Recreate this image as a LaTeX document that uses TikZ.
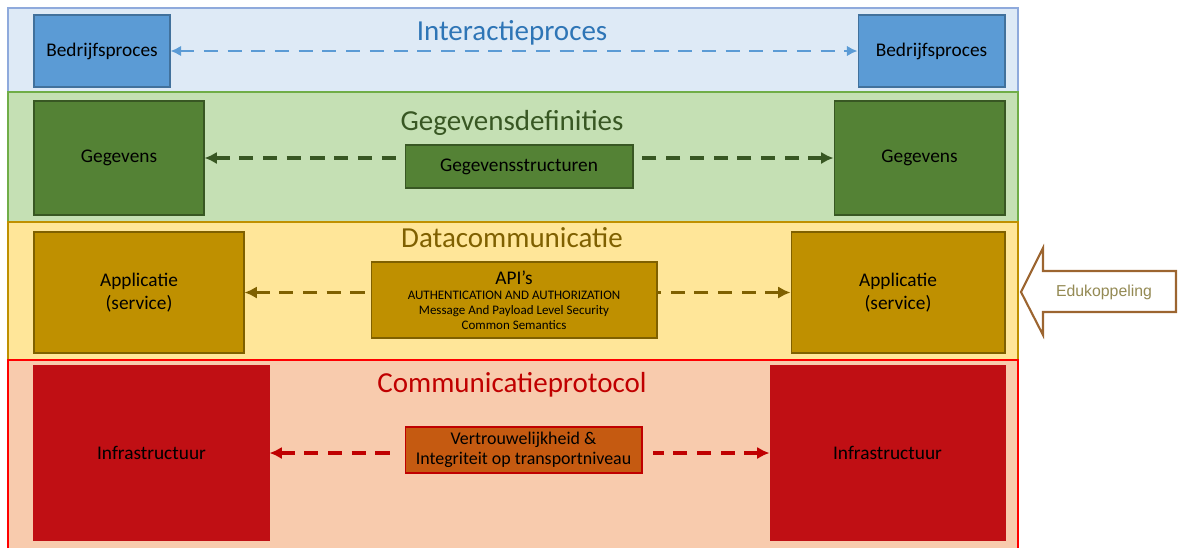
\documentclass[tikz,border=0pt]{standalone}
\usepackage{fontspec}
\setmainfont{Carlito}
\newfontfamily\arialfont{Liberation Sans}
\usetikzlibrary{arrows.meta}

\definecolor{lichtblauw}{HTML}{DEEAF6}
\definecolor{randblauw}{HTML}{8FAADC}
\definecolor{blokblauw}{HTML}{5B9BD5}
\definecolor{donkerblauw}{HTML}{41719C}
\definecolor{titelblauw}{HTML}{2E75B6}
\definecolor{lichtgroen}{HTML}{C5E0B4}
\definecolor{randgroen}{HTML}{70AD47}
\definecolor{blokgroen}{HTML}{548235}
\definecolor{donkergroen}{HTML}{385723}
\definecolor{lichtgeel}{HTML}{FFE699}
\definecolor{randgeel}{HTML}{BF9000}
\definecolor{blokgoud}{HTML}{BF9000}
\definecolor{donkergoud}{HTML}{7F6000}
\definecolor{lichtrood}{HTML}{F8CBAD}
\definecolor{randrood}{HTML}{FF0000}
\definecolor{blokrood}{HTML}{C00F14}
\definecolor{donkerrood}{HTML}{C00000}
\definecolor{blokoranje}{HTML}{C55A11}
\definecolor{pijlbruin}{HTML}{9C6530}
\definecolor{tekstolijf}{HTML}{948A54}

\tikzset{
  laag/.style={line width=0.8pt},
  blok/.style={rectangle, draw, line width=0.6pt, align=center, text=black, font=\fontsize{11}{13}\selectfont, inner sep=2pt},
  titel/.style={font=\fontsize{16.5}{19}\selectfont},
  koppeling/.style={dashed, dash pattern=on 8pt off 5.5pt, line width=2pt, {Latex[length=7pt,width=7pt]}-}
}

\begin{document}
\begin{tikzpicture}[x=0.02cm, y=-0.02cm]
  \useasboundingbox (0,0) rectangle (1179,548);

  % lagen
  \draw[laag, fill=lichtblauw, draw=randblauw] (8,8) rectangle (1018,92);
  \draw[laag, fill=lichtgroen, draw=randgroen] (8,92) rectangle (1018,222);
  \draw[laag, fill=lichtgeel, draw=randgeel] (8,222) rectangle (1018,360);
  \fill[lichtrood] (8,360) rectangle (1018,548);
  \draw[laag, randrood] (8,548) -- (8,360) -- (1018,360) -- (1018,548);

  \node[titel, text=titelblauw] (t1) at (512,33) {Interactieproces};
  \node[titel, text=donkergroen] (t2) at (512,123) {Gegevensdefinities};
  \node[titel, text=donkergoud] (t3) at (512,238) {Datacommunicatie};
  \node[titel, text=donkerrood] (t4) at (512,385) {Communicatieprotocol};

  % interactieproces
  \node[blok, fill=blokblauw, draw=donkerblauw, minimum width=2.72cm, minimum height=1.44cm] (bp1) at (102,51) {Bedrijfsproces};
  \node[blok, fill=blokblauw, draw=donkerblauw, minimum width=2.94cm, minimum height=1.44cm] (bp2) at (931.5,51) {Bedrijfsproces};
  \draw[koppeling, blokblauw, line width=1.1pt, {Latex[length=6pt,width=6pt]}-{Latex[length=6pt,width=6pt]}] (bp1.east) -- (bp2.west);

  % gegevens
  \node[blok, fill=blokgroen, draw=donkergroen, minimum width=3.4cm, minimum height=2.28cm] (gg1) at (119,158) {Gegevens};
  \node[blok, fill=blokgroen, draw=donkergroen, minimum width=3.42cm, minimum height=2.28cm] (gg2) at (919.5,158) {Gegevens};
  \node[blok, fill=blokgroen, draw=donkergroen, minimum width=4.56cm, minimum height=0.86cm] (gs) at (519,166.5) {Gegevensstructuren};
  \draw[koppeling, donkergroen] (gg1.east) -- ([xshift=-4pt]gs.west |- gg1.east);
  \draw[koppeling, donkergroen] (gg2.west) -- ([xshift=4pt]gs.east |- gg2.west);

  % datacommunicatie
  \node[blok, fill=blokgoud, draw=donkergoud, minimum width=4.2cm, minimum height=2.42cm] (ap1) at (139,292.5) {Applicatie\\(service)};
  \node[blok, fill=blokgoud, draw=donkergoud, minimum width=4.28cm, minimum height=2.42cm] (ap2) at (898,292.5) {Applicatie\\(service)};
  \node[blok, fill=blokgoud, draw=donkergoud, minimum width=5.72cm, minimum height=1.52cm, font=\fontsize{7.4}{8.6}\selectfont] (api) at (514,300)
    {{\fontsize{11}{12}\selectfont API's}\\AUTHENTICATION AND AUTHORIZATION\\Message And Payload Level Security\\Common Semantics};
  \draw[koppeling, donkergoud] (ap1.east) -- (api.west |- ap1.east);
  \draw[koppeling, donkergoud] (ap2.west) -- (api.east |- ap2.west);

  % communicatieprotocol
  \node[blok, fill=blokrood, draw=blokrood, minimum width=4.7cm, minimum height=3.48cm] (in1) at (151.5,453) {Infrastructuur};
  \node[blok, fill=blokrood, draw=blokrood, minimum width=4.7cm, minimum height=3.48cm] (in2) at (887.5,453) {Infrastructuur};
  \node[blok, fill=blokoranje, draw=donkerrood, minimum width=4.74cm, minimum height=0.92cm, font=\fontsize{10.2}{11.5}\selectfont] (vt) at (523.5,450)
    {Vertrouwelijkheid \&\\Integriteit op transportniveau};
  \draw[koppeling, donkerrood] (in1.east) -- ([xshift=-6pt]vt.west |- in1.east);
  \draw[koppeling, donkerrood] (in2.west) -- ([xshift=6pt]vt.east |- in2.west);

  % edukoppeling
  \draw[pijlbruin, line width=1.2pt, fill=white, line join=miter]
    (1021,292) -- (1043,248) -- (1043,271) -- (1176,271) -- (1176,312) -- (1043,312) -- (1043,335) -- cycle;
  \node[font=\arialfont\fontsize{9}{10}\selectfont, text=tekstolijf] (edu) at (1104,292) {Edukoppeling};
\end{tikzpicture}
\end{document}
